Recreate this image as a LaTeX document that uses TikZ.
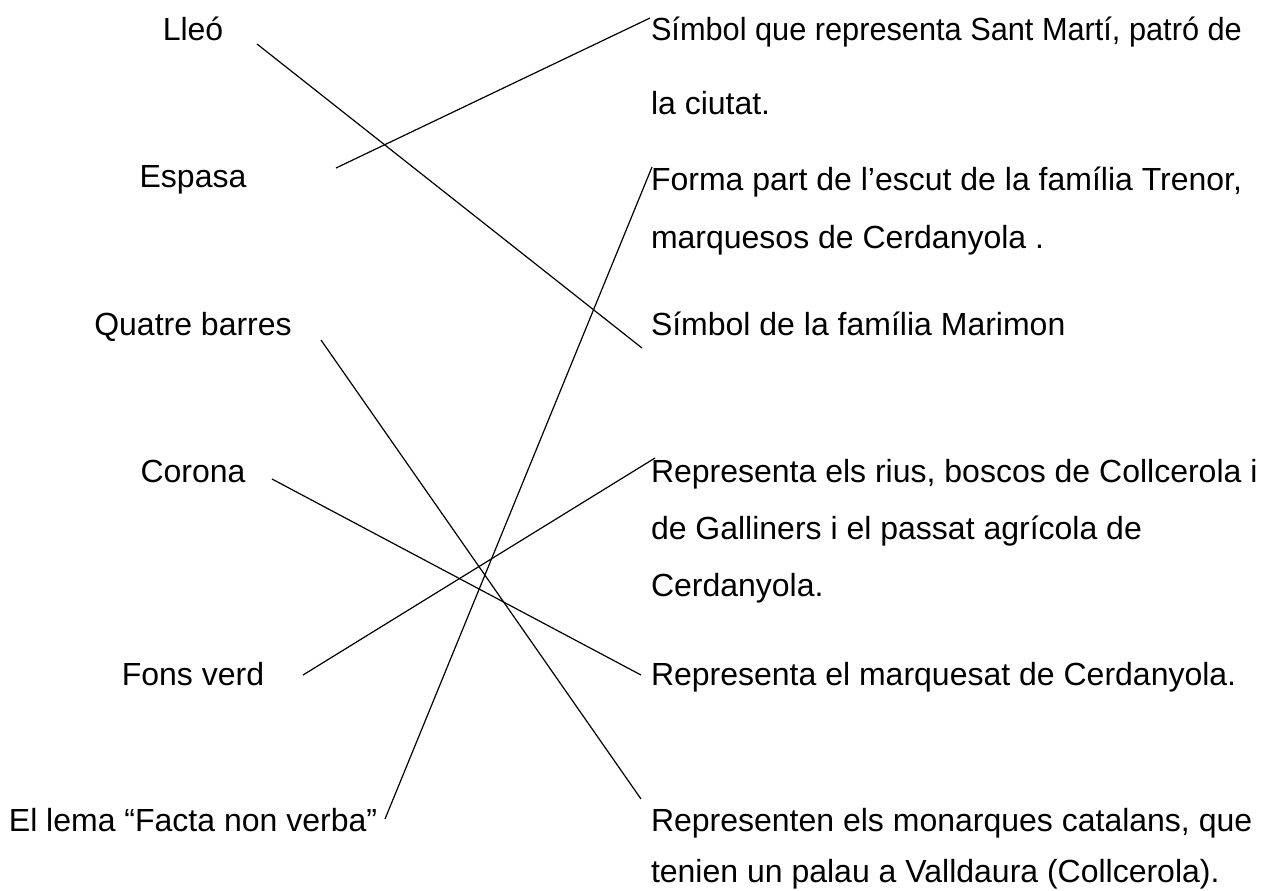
\documentclass[tikz,border=0pt]{standalone}
\usepackage{fontspec}
\setmainfont{Liberation Sans}
\begin{document}
\begin{tikzpicture}[x=0.5pt,y=-0.5pt,
  lbl/.style={inner sep=0pt,outer sep=0pt,font=\fontsize{16pt}{19pt}\selectfont},
  lft/.style={lbl,anchor=base},
  rgt/.style={lbl,anchor=base west},
  link/.style={draw=black,line width=0.6pt}]
\useasboundingbox[fill=white] (0,0) rectangle (1279,890);
% left column
\node[lft] (lleo)   at (193,40)  {Lleó};
\node[lft] (espasa) at (193,187) {Espasa};
\node[lft] (barres) at (193,335) {Quatre barres};
\node[lft] (corona) at (193,482) {Corona};
\node[lft] (fons)   at (193,685) {Fons verd};
\node[lft] (lema)   at (193,831) {El lema “Facta non verba”};
% right column
\node[rgt,xscale=0.96,transform shape] (martiA) at (651,40)  {Símbol que representa Sant Martí, patró de};
\node[rgt] (martiB) at (651,114) {la ciutat.};
\node[rgt] (trenA)  at (651,190) {Forma part de l’escut de la família Trenor,};
\node[rgt] (trenB)  at (651,248) {marquesos de Cerdanyola .};
\node[rgt] (mari)   at (651,335) {Símbol de la família Marimon};
\node[rgt] (riusA)  at (651,482) {Representa els rius, boscos de Collcerola i};
\node[rgt] (riusB)  at (651,539) {de Galliners i el passat agrícola de};
\node[rgt] (riusC)  at (651,596) {Cerdanyola.};
\node[rgt] (marq)   at (651,685) {Representa el marquesat de Cerdanyola.};
\node[rgt] (monA)   at (651,831) {Representen els monarques catalans, que};
\node[rgt] (monB)   at (651,882) {tenien un palau a Valldaura (Collcerola).};
% connector ends
\coordinate (lleo-e)   at (257,44);
\coordinate (espasa-e) at (336,168);
\coordinate (barres-e) at (321,340);
\coordinate (corona-e) at (272,479);
\coordinate (fons-e)   at (303,675);
\coordinate (lema-e)   at (385,819);
\coordinate (marti-e)  at (650,18);
\coordinate (tren-e)   at (652,167);
\coordinate (mari-e)   at (642,348);
\coordinate (rius-e)   at (655,458);
\coordinate (marq-e)   at (641,675);
\coordinate (mon-e)    at (641,799);
% connectors
\draw[link] (lleo-e) -- (mari-e);
\draw[link] (espasa-e) -- (marti-e);
\draw[link] (barres-e) -- (mon-e);
\draw[link] (corona-e) -- (marq-e);
\draw[link] (fons-e) -- (rius-e);
\draw[link] (lema-e) -- (tren-e);
\end{tikzpicture}
\end{document}
